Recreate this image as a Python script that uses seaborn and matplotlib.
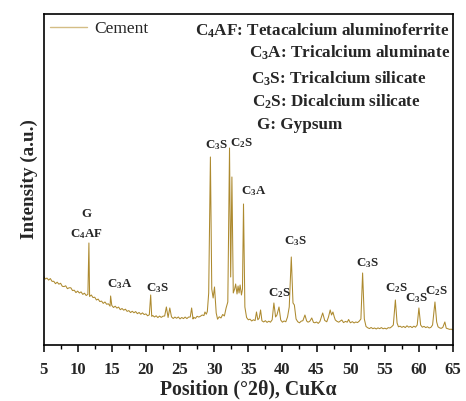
import numpy as np
import pandas as pd
import matplotlib
matplotlib.use("Agg")
import matplotlib.pyplot as plt
from matplotlib.ticker import MultipleLocator
import seaborn as sns

# XRD pattern of the cement sample (2-theta in degrees, intensity in arbitrary counts)
two_theta = [
    5.00, 5.25, 5.50, 5.75, 6.00, 6.25, 6.50, 6.75, 7.00, 7.25, 7.50, 7.75,
    8.00, 8.25, 8.50, 8.75, 9.00, 9.25, 9.50, 9.75, 10.00, 10.25, 10.50, 10.75,
    11.00, 11.25, 11.50, 11.65, 11.75, 12.00, 12.25, 12.50, 12.75,
    13.00, 13.25, 13.50, 13.75, 14.00, 14.25, 14.50, 14.75, 14.83,
    15.00, 15.25, 15.50, 15.75, 16.00, 16.25, 16.50, 16.75,
    17.00, 17.25, 17.50, 17.75, 18.00, 18.25, 18.50, 18.75,
    19.00, 19.25, 19.50, 19.75, 20.00, 20.25, 20.50, 20.70, 20.85, 21.00,
    21.25, 21.50, 21.75, 22.00, 22.25, 22.50, 22.75, 23.00, 23.25, 23.50, 23.75,
    24.00, 24.25, 24.50, 24.75, 25.00, 25.25, 25.50, 25.75,
    26.00, 26.25, 26.50, 26.70, 26.90, 27.00, 27.25, 27.50, 27.75,
    28.00, 28.25, 28.50, 28.65, 28.85, 29.00, 29.20, 29.45, 29.65, 29.85, 30.05, 30.30,
    30.50, 30.75, 31.00, 31.25, 31.50, 31.75, 32.00,
    32.25, 32.42, 32.60, 32.80, 33.00, 33.15, 33.35, 33.50, 33.65, 33.80, 34.00, 34.15, 34.30, 34.50,
    34.75, 35.00, 35.25, 35.50, 35.75, 36.00, 36.20, 36.40, 36.60, 36.80, 37.00,
    37.25, 37.50, 37.75, 38.00, 38.25, 38.50, 38.75, 39.00, 39.20, 39.50, 39.75,
    40.00, 40.25, 40.50, 40.75, 41.00, 41.30, 41.55, 41.75, 42.00,
    42.25, 42.50, 42.75, 43.00, 43.30, 43.55, 43.75, 44.00, 44.30, 44.55,
    44.75, 45.00, 45.25, 45.50, 45.90, 46.20, 46.50, 46.75, 47.00, 47.20, 47.40, 47.60,
    47.75, 48.00, 48.25, 48.50, 48.70, 48.95, 49.25, 49.50, 49.70, 49.95,
    50.25, 50.50, 50.75, 51.00, 51.25, 51.50, 51.75, 52.00, 52.25,
    52.50, 52.75, 53.00, 53.25, 53.50, 53.75, 54.00, 54.25, 54.50, 54.75,
    55.00, 55.25, 55.50, 55.75, 56.00, 56.25, 56.55, 56.80, 57.00,
    57.25, 57.50, 57.75, 58.00, 58.25, 58.50, 58.75, 59.00, 59.25, 59.50, 59.75,
    60.00, 60.25, 60.50, 60.75, 61.00, 61.25, 61.50, 61.75, 62.00, 62.35, 62.60, 62.80, 63.00,
    63.25, 63.50, 63.80, 64.00, 64.25, 64.50, 64.75, 65.00,
]
intensity = [
    690, 660, 669, 649, 664, 636, 637, 613, 628, 608, 617, 587,
    584, 592, 563, 572, 572, 544, 548, 524, 539, 520, 531, 506,
    518, 495, 506, 1020, 485, 500, 474, 478, 450,
    459, 434, 439, 416, 430, 407, 412, 388, 490,
    396, 375, 388, 369, 379, 353, 365, 348,
    358, 336, 344, 324, 337, 322, 334, 313,
    325, 307, 321, 304, 311, 292, 302, 500, 286, 295,
    280, 292, 274, 289, 276, 288, 290, 380, 275, 370, 281,
    265, 279, 267, 280, 261, 275, 264, 279,
    264, 279, 280, 370, 260, 277, 266, 287, 279,
    288, 300, 294, 330, 308, 335, 520, 1880, 560, 470, 580, 320,
    258, 282, 270, 305, 290, 370, 430,
    1970, 680, 1680, 520, 560, 610, 510, 590, 520, 600, 500, 560, 1410, 380,
    275, 252, 258, 240, 252, 244, 330, 252, 268, 350, 242,
    230, 243, 226, 238, 228, 252, 420, 280, 300, 380, 250,
    228, 240, 232, 280, 380, 880, 420, 400, 260,
    232, 222, 238, 243, 300, 240, 228, 236, 270, 226,
    222, 230, 216, 235, 320, 245, 232, 280, 350, 300, 330, 280,
    250, 236, 228, 240, 250, 224, 236, 228, 255, 222,
    233, 220, 230, 224, 238, 260, 720, 260, 185,
    172, 164, 175, 163, 170, 160, 171, 163, 174, 162,
    168, 160, 173, 170, 182, 200, 450, 220, 182,
    188, 176, 186, 174, 192, 178, 186, 174, 188, 178, 200,
    370, 200, 178, 186, 174, 182, 170, 176, 200, 430, 230, 182, 172,
    166, 176, 230, 168, 162, 156, 158, 150,
]
sample_name = "Cement"

# Phase key shown in the upper right
phase_key = [
    r"C$_4$AF: Tetacalcium aluminoferrite",
    r"C$_3$A: Tricalcium aluminate",
    r"C$_3$S: Tricalcium silicate",
    r"C$_2$S: Dicalcium silicate",
    "G: Gypsum",
]
phase_key_x = [27.15, 35.05, 35.35, 35.5, 36.25]
phase_key_y = [3090, 2870, 2610, 2380, 2160]

# Peak assignments: label, x, y (baseline of text)
peak_labels = ["G", r"C$_4$AF", r"C$_3$A", r"C$_3$S", r"C$_3$S", r"C$_2$S", r"C$_3$A",
               r"C$_2$S", r"C$_3$S", r"C$_3$S", r"C$_2$S", r"C$_3$S", r"C$_2$S"]
peak_label_x = [11.33, 11.30, 16.14, 21.63, 30.38, 33.94, 35.84,
                39.58, 41.85, 52.40, 56.65, 59.62, 62.58]
peak_label_y = [1280, 1080, 580, 540, 1970, 1990, 1510,
                490, 1010, 790, 540, 440, 510]

df = pd.DataFrame({"two_theta": two_theta, "intensity": intensity})

sns.set_theme(style="ticks")
plt.rcParams["font.family"] = ["Liberation Serif", "DejaVu Serif"]
plt.rcParams["mathtext.default"] = "regular"

fig = plt.figure(figsize=(4.66, 4.01), dpi=100)
ax = fig.add_axes([0.0934, 0.1397, 0.8788, 0.8254])

line_color = "#ad8a2f"
sns.lineplot(data=df, x="two_theta", y="intensity", ax=ax, color=line_color,
             linewidth=0.75, estimator=None, sort=False, label=sample_name)

ax.set_xlim(5, 65)
ax.set_ylim(0, 3310)
ax.xaxis.set_major_locator(MultipleLocator(5))
ax.xaxis.set_minor_locator(MultipleLocator(2.5))
ax.set_yticks([])
ax.tick_params(axis="x", which="major", direction="out", length=5, width=1.1,
               labelsize=12, pad=7, color="black")
ax.tick_params(axis="x", which="minor", direction="out", length=3, width=1.0, color="black")
for lab in ax.get_xticklabels():
    lab.set_fontweight("bold")
for sp in ax.spines.values():
    sp.set_visible(True)
    sp.set_linewidth(1.2)
    sp.set_color("black")

ax.set_xlabel("Position (°2θ), CuKα", fontsize=14.2, fontweight="bold", labelpad=1)
ax.set_ylabel("Intensity (a.u.)", fontsize=13.8, fontweight="bold", labelpad=4)

leg = ax.legend(loc="upper left", bbox_to_anchor=(0.0, 1.0), frameon=False,
                handlelength=2.1, handletextpad=0.4, borderaxespad=0.2,
                borderpad=0.2, prop={"family": "Liberation Serif", "size": 12.5})
for h in leg.get_lines():
    h.set_linewidth(1.0)
    h.set_color("#d4bd85")

for txt, x, y in zip(phase_key, phase_key_x, phase_key_y):
    ax.text(x, y, txt, ha="left", va="baseline", fontsize=12.3, fontweight="bold")

for txt, x, y in zip(peak_labels, peak_label_x, peak_label_y):
    ax.text(x, y, txt, ha="center", va="baseline", fontsize=9.3, fontweight="bold")

fig.savefig("out.png", dpi=100)
